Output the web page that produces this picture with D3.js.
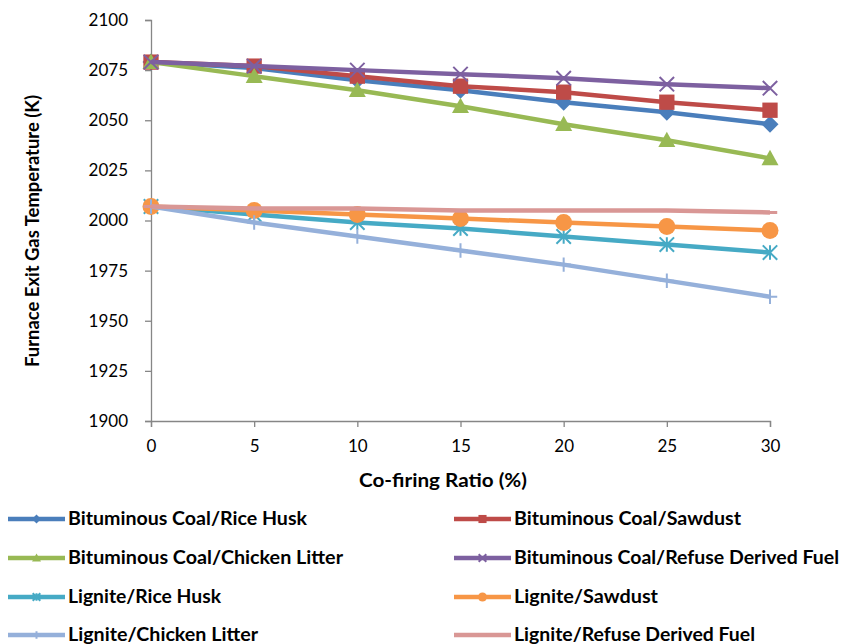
<!DOCTYPE html>
<html><head><meta charset="utf-8">
<script src="https://cdn.jsdelivr.net/npm/d3@7"></script>
<style>body{margin:0;background:#fff}svg{display:block}text{font-family:Lato,"Open Sans",sans-serif}</style>
</head><body>
<svg id="c" width="843" height="644"></svg>
<script>
const ratios = [0, 5, 10, 15, 20, 25, 30];
const yTicks = [1900, 1925, 1950, 1975, 2000, 2025, 2050, 2075, 2100];
const seriesNames = [
  "Bituminous Coal/Rice Husk", "Bituminous Coal/Sawdust",
  "Bituminous Coal/Chicken Litter", "Bituminous Coal/Refuse Derived Fuel",
  "Lignite/Rice Husk", "Lignite/Sawdust",
  "Lignite/Chicken Litter", "Lignite/Refuse Derived Fuel"
];
const bcRiceHusk    = [2079, 2076, 2070, 2065, 2059, 2054, 2048];
const bcSawdust     = [2079, 2077, 2072, 2067, 2064, 2059, 2055];
const bcChicken     = [2079, 2072, 2065, 2057, 2048, 2040, 2031];
const bcRDF         = [2079, 2077, 2075, 2073, 2071, 2068, 2066];
const lgRiceHusk    = [2007, 2003, 1999, 1996, 1992, 1988, 1984];
const lgSawdust     = [2007, 2005, 2003, 2001, 1999, 1997, 1995];
const lgChicken     = [2007, 1999, 1992, 1985, 1978, 1970, 1962];
const lgRDF         = [2007, 2006, 2006, 2005, 2005, 2005, 2004];
const seriesValues = [bcRiceHusk, bcSawdust, bcChicken, bcRDF, lgRiceHusk, lgSawdust, lgChicken, lgRDF];
const colors = ["#4A7EBB", "#BE4B48", "#98B954", "#7D60A0", "#46AAC5", "#F79646", "#95B0DA", "#D99795"];
const markers = ["diamond", "square", "triangle", "x", "star", "circle", "plus", "dash"];

const svg = d3.select("#c");
const x = d3.scaleLinear().domain([0, 30]).range([151, 770]);
const y = d3.scaleLinear().domain([1900, 2100]).range([421, 20]);
const axisColor = "#868686";

// axes
const gx = svg.append("g").attr("transform", `translate(0,${y(1900)})`)
  .call(d3.axisBottom(x).tickValues(ratios).tickSize(6).tickPadding(10).tickFormat(d3.format("d")));
const gy = svg.append("g").attr("transform", `translate(${x(0)},0)`)
  .call(d3.axisLeft(y).tickValues(yTicks).tickSize(6).tickPadding(17).tickFormat(d3.format("d")));
[gx, gy].forEach(g => {
  g.select(".domain").attr("stroke", axisColor).attr("stroke-width", 1.3);
  g.selectAll(".tick line").attr("stroke", axisColor).attr("stroke-width", 1.3);
  g.selectAll(".tick text").attr("fill", "#000").style("font-size", "17px").style("font-family", "Lato");
});
gx.selectAll(".tick text").attr("dy", "0.9em");

svg.append("text").attr("x", 443).attr("y", 487).attr("text-anchor", "middle")
  .style("font-size", "18px").style("font-weight", "bold")
  .attr("textLength", 168).attr("lengthAdjust", "spacingAndGlyphs").text("Co-firing Ratio (%)");
svg.append("text").attr("transform", `translate(39,231) rotate(-90)`).attr("text-anchor", "middle")
  .style("font-size", "18px").style("font-weight", "bold")
  .attr("textLength", 272).attr("lengthAdjust", "spacingAndGlyphs").text("Furnace Exit Gas Temperature (K)");

function drawMarker(g, type, cx, cy, color, s) {
  const h = s / 2;
  if (type === "diamond") {
    g.append("path").attr("d", `M${cx},${cy-h}L${cx+h},${cy}L${cx},${cy+h}L${cx-h},${cy}Z`).attr("fill", color);
  } else if (type === "square") {
    const q = h * 0.9;
    g.append("rect").attr("x", cx-q).attr("y", cy-q).attr("width", 2*q).attr("height", 2*q).attr("fill", color);
  } else if (type === "triangle") {
    g.append("path").attr("d", `M${cx},${cy-h}L${cx+h},${cy+h*0.8}L${cx-h},${cy+h*0.8}Z`).attr("fill", color);
  } else if (type === "x") {
    const q = h * 0.85;
    g.append("path").attr("d", `M${cx-q},${cy-q}L${cx+q},${cy+q}M${cx-q},${cy+q}L${cx+q},${cy-q}`).attr("stroke", color).attr("stroke-width", 2).attr("fill", "none");
  } else if (type === "star") {
    const q = h * 0.85;
    g.append("path").attr("d", `M${cx-q},${cy-q}L${cx+q},${cy+q}M${cx-q},${cy+q}L${cx+q},${cy-q}M${cx},${cy-q}L${cx},${cy+q}`).attr("stroke", color).attr("stroke-width", 2).attr("fill", "none");
  } else if (type === "circle") {
    g.append("circle").attr("cx", cx).attr("cy", cy).attr("r", h).attr("fill", color);
  } else if (type === "plus") {
    const q = h * 0.85;
    g.append("path").attr("d", `M${cx-q},${cy}L${cx+q},${cy}M${cx},${cy-q}L${cx},${cy+q}`).attr("stroke", color).attr("stroke-width", 2).attr("fill", "none");
  } else if (type === "dash") {
    const q = h * 0.85;
    g.append("path").attr("d", `M${cx-q},${cy}L${cx+q},${cy}`).attr("stroke", color).attr("stroke-width", 3).attr("fill", "none");
  }
}

const line = d3.line().x((d, i) => x(ratios[i])).y(d => y(d));
const plot = svg.append("g");
seriesValues.forEach((vals, si) => {
  const g = plot.append("g");
  g.append("path").datum(vals).attr("d", line).attr("fill", "none")
    .attr("stroke", colors[si]).attr("stroke-width", 4.5).attr("stroke-linejoin", "round");
  vals.forEach((v, i) => drawMarker(g, markers[si], x(ratios[i]), y(v), colors[si], 17));
});

// legend
const legRows = [519, 558, 597, 635];
const legCols = [{x0: 8, x1: 65, tx: 68}, {x0: 454, x1: 511, tx: 514}];
const legWidths = [239, 227, 275, 325, 153, 144, 190, 241];
seriesNames.forEach((name, i) => {
  const col = legCols[i % 2], ry = legRows[Math.floor(i / 2)];
  const g = svg.append("g");
  g.append("line").attr("x1", col.x0).attr("x2", col.x1).attr("y1", ry).attr("y2", ry)
    .attr("stroke", colors[i]).attr("stroke-width", 4.5);
  drawMarker(g, markers[i], (col.x0 + col.x1) / 2, ry, colors[i], 9);
  g.append("text").attr("x", col.tx).attr("y", ry).attr("dy", "0.35em")
    .style("font-size", "18px").style("font-weight", "bold").attr("fill", "#000")
    .attr("textLength", legWidths[i]).attr("lengthAdjust", "spacingAndGlyphs").text(name);
});
</script>
</body></html>
